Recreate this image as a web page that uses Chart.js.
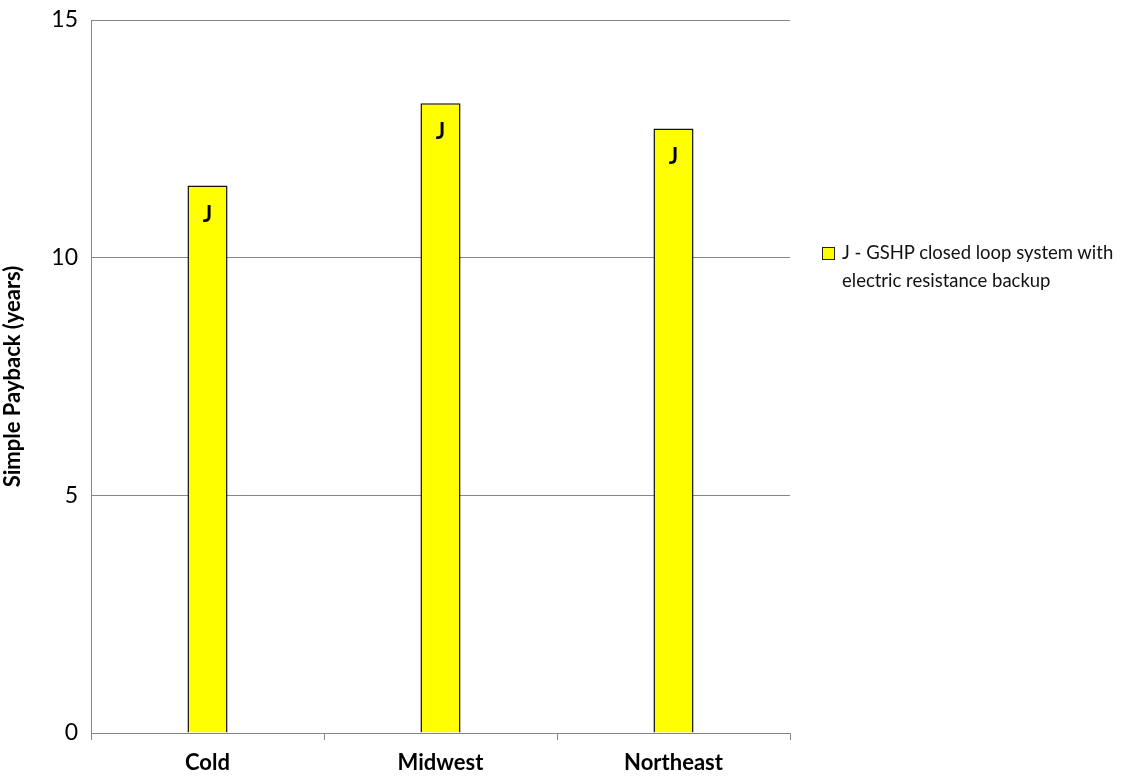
<!DOCTYPE html>
<html>
<head>
<meta charset="utf-8">
<script src="https://cdn.jsdelivr.net/npm/chart.js@4.4.1/dist/chart.umd.min.js"></script>
<style>
  body { margin: 0; background: #fff; }
  #wrap { position: relative; width: 1121px; height: 778px; }
  #legend { position: absolute; left: 822px; top: 238px; font-family: Lato, "Open Sans", sans-serif; font-size: 18.5px; color: #111; line-height: 28px; }
  #legend .box { display: inline-block; width: 11px; height: 11px; background: #ffff00; border: 1px solid #222; vertical-align: -1px; margin-right: 7px; }
  #legend .l2 { padding-left: 20px; }
</style>
</head>
<body>
<div id="wrap">
  <canvas id="chart" width="1121" height="778"></canvas>
  <div id="legend"></div>
</div>
<script>
const regions = ["Cold", "Midwest", "Northeast"];
const paybackJ = [11.52, 13.25, 12.72];
const barLabels = ["J", "J", "J"];
const yTicks = [0, 5, 10, 15];
const seriesName = ["J - GSHP closed loop system with", "electric resistance backup"];

document.getElementById("legend").innerHTML =
  '<div><span class="box"></span>' + seriesName[0] + '</div><div class="l2">' + seriesName[1] + '</div>';

const fontFamily = 'Lato, "Open Sans", sans-serif';

// writes the letter label just inside the top of each bar
const barTextPlugin = {
  id: "barText",
  afterDatasetsDraw(chart) {
    const ctx = chart.ctx;
    const meta = chart.getDatasetMeta(0);
    ctx.save();
    ctx.font = "bold 22px " + fontFamily;
    ctx.fillStyle = "#000";
    ctx.textAlign = "center";
    ctx.textBaseline = "middle";
    meta.data.forEach((bar, i) => {
      ctx.fillText(barLabels[i], bar.x, bar.y + 29);
    });
    ctx.restore();
  }
};

new Chart(document.getElementById("chart"), {
  type: "bar",
  data: {
    labels: regions,
    datasets: [{
      label: seriesName.join(" "),
      data: paybackJ,
      backgroundColor: "#ffff00",
      borderColor: "#111",
      borderWidth: 1.5,
      barPercentage: 0.172,
      categoryPercentage: 1
    }]
  },
  options: {
    responsive: false,
    animation: false,
    layout: { padding: { top: 20, right: 331, left: 0, bottom: 0 } },
    plugins: {
      legend: { display: false },
      tooltip: { enabled: false }
    },
    scales: {
      x: {
        afterFit(scale) { scale.height = 45; },
        grid: {
          offset: true,
          drawOnChartArea: false,
          color: "#868686",
          tickLength: 7
        },
        border: { color: "#868686" },
        ticks: {
          padding: 10,
          color: "#000",
          font: { family: fontFamily, size: 22, weight: "bold" }
        }
      },
      y: {
        min: 0,
        max: 15,
        afterFit(scale) {
          scale.width = 91;
          scale.paddingTop = 0;
          scale.paddingBottom = 0;
        },
        afterBuildTicks(scale) { scale.ticks = yTicks.map(v => ({ value: v })); },
        grid: { color: "#868686", drawTicks: false },
        border: { color: "#868686" },
        ticks: {
          padding: 13,
          color: "#000",
          font: { family: fontFamily, size: 23 }
        },
        title: {
          display: true,
          text: "Simple Payback (years)",
          color: "#000",
          padding: { top: 0, bottom: 18 },
          font: { family: fontFamily, size: 22, weight: "bold" }
        }
      }
    }
  },
  plugins: [barTextPlugin]
});
</script>
</body>
</html>
